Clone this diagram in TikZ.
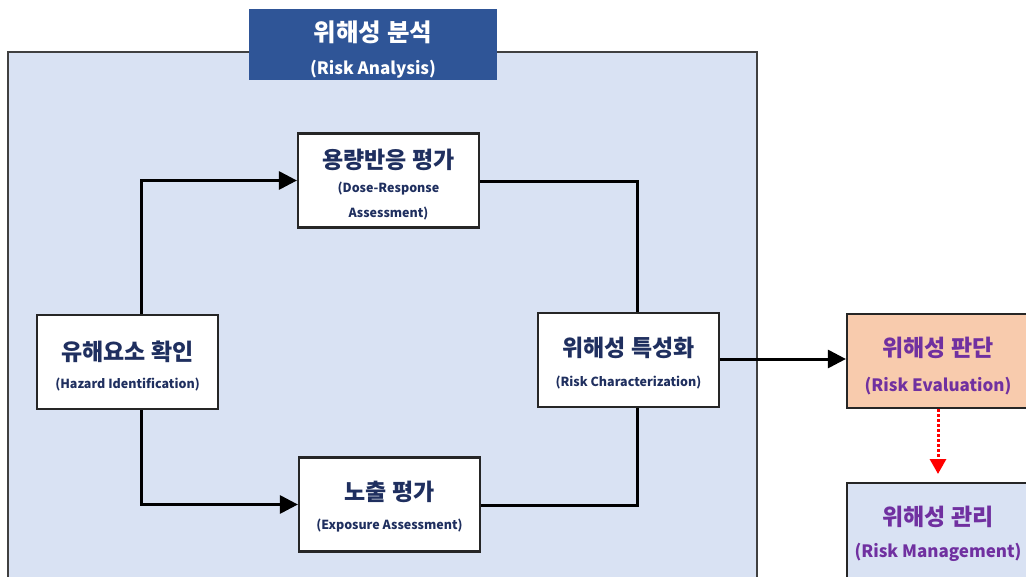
\documentclass[tikz,border=0pt]{standalone}
\usepackage{fontspec}
\setmainfont{Noto Sans CJK KR}
\usetikzlibrary{arrows.meta}
\definecolor{panel}{HTML}{D9E2F3}
\definecolor{titlebg}{HTML}{2F5597}
\definecolor{navy}{HTML}{1F2F5F}
\definecolor{purp}{HTML}{7030A0}
\definecolor{peach}{HTML}{F8CBAD}
\tikzset{
  x=1pt,y=-1pt,
  stepbox/.style={draw=black!85,line width=2.2pt,fill=white,minimum width=181,minimum height=94,inner sep=0},
  txt/.style={align=center,font=\bfseries,text=navy,inner sep=0,yshift=-4pt},
  conn/.style={line width=3pt,black},
  arr/.style={conn,-{Triangle[length=18pt,width=18pt]}},
}
\newcommand{\kt}[1]{{\fontsize{23}{24}\selectfont\bfseries #1}}
\newcommand{\ktt}[1]{{\fontsize{24.5}{24}\selectfont\bfseries #1}}
\newcommand{\et}[1]{{\fontsize{12.5}{15}\selectfont\bfseries #1}}
\newcommand{\pt}[1]{{\fontsize{17}{18}\selectfont\bfseries #1}}
\begin{document}
\begin{tikzpicture}
\useasboundingbox (0,0) rectangle (1026,576);
\fill[white] (0,0) rectangle (1026,576);
\draw[fill=panel,draw=black!75,line width=1.5pt] (8,52) rectangle (757,582);
\node[fill=titlebg,minimum width=248,minimum height=71,inner sep=0,
  label={[txt,text=white,yshift=-1pt]center:{\ktt{위해성 분석}\\[16pt]\pt{(Risk Analysis)}}}] (title) at (373,44.5) {};
\node[stepbox,label={[txt]center:{\kt{용량반응 평가}\\[11pt]\et{(Dose-Response}\\[11pt]\et{Assessment)}}}] (dose) at (388.5,180.5) {};
\node[stepbox,label={[txt]center:{\kt{유해요소 확인}\\[14pt]\et{(Hazard Identification)}}}] (haz) at (127.5,362) {};
\node[stepbox,label={[txt,yshift=1pt]center:{\kt{위해성 특성화}\\[16pt]\et{(Risk Characterization)}}}] (char) at (628.5,360) {};
\node[stepbox,label={[txt,yshift=2pt]center:{\kt{노출 평가}\\[15pt]\et{(Exposure Assessment)}}}] (exp) at (389.5,504.5) {};
\node[stepbox,fill=peach,minimum width=182,
  label={[txt,text=purp,yshift=-1pt]center:{\kt{위해성 판단}\\[17pt]\pt{(Risk Evaluation)}}}] (eval) at (938,361) {};
\node[stepbox,fill=panel,minimum width=182,minimum height=100,
  label={[txt,text=purp,yshift=3pt]center:{\kt{위해성 관리}\\[14pt]\pt{(Risk Management)}}}] (mgmt) at (938,533) {};
\draw[arr] (haz.north -| 141,0) |- (dose.west);
\draw[arr] (haz.south -| 141,0) |- (exp.west);
\draw[conn] (dose.east |- 0,181) -| (char.north -| 637,0);
\draw[conn] (exp.east |- 0,505) -| (char.south -| 637,0);
\draw[arr] (char.east |- 0,359) -- (eval.west |- 0,359);
\draw[red,line width=3pt,dotted,-{Triangle[length=15pt,width=16pt]}] (eval.south) -- (938,474);
\end{tikzpicture}
\end{document}
